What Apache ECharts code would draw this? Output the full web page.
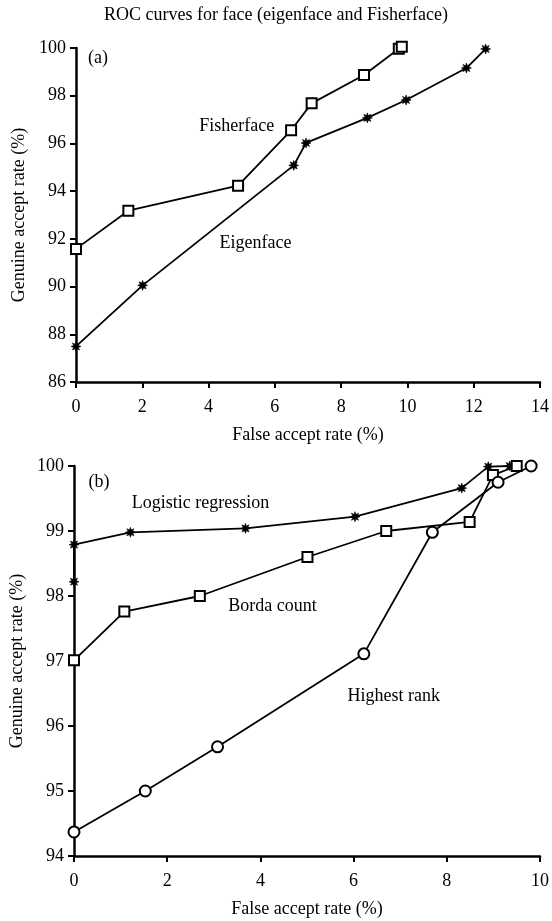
<!DOCTYPE html>
<html>
<head>
<meta charset="utf-8">
<script src="https://cdn.jsdelivr.net/npm/echarts@6/dist/echarts.min.js"></script>
<style>
html,body{margin:0;padding:0;background:#fff;}
#main{width:552px;height:921px;}
</style>
</head>
<body>
<div id="main"></div>
<script>
// ---- Data ----
const titleText = 'ROC curves for face (eigenface and Fisherface)';
const xAxisTitle = 'False accept rate (%)';
const yAxisTitle = 'Genuine accept rate (%)';

// Panel (a)
const fisherX = [0, 1.58, 4.89, 6.49, 7.11, 8.69, 9.74, 9.83];
const fisherY = [91.58, 93.18, 94.23, 96.55, 97.68, 98.87, 99.97, 100.05];
const eigenX = [0, 2.01, 6.57, 6.94, 8.79, 9.96, 11.78, 12.36];
const eigenY = [87.49, 90.05, 95.08, 96.02, 97.07, 97.82, 99.16, 99.96];

// Panel (b)
const logisticX = [0, 0, 1.21, 3.68, 6.03, 8.32, 8.89, 9.35];
const logisticY = [98.22, 98.79, 98.98, 99.04, 99.22, 99.66, 99.99, 100.0];
const bordaX = [0, 1.08, 2.70, 5.01, 6.70, 8.49, 8.99, 9.5];
const bordaY = [97.01, 97.76, 98.0, 98.6, 99.0, 99.14, 99.86, 100.0];
const highestX = [0, 1.53, 3.08, 6.22, 7.69, 9.1, 9.81];
const highestY = [94.37, 95.0, 95.68, 97.11, 98.98, 99.75, 100.0];

// Annotation texts with their data-space anchors (left edge, vertical centre)
const annotA = [
  {text: '(a)', x: 0.36, y: 99.58},
  {text: 'Fisherface', x: 3.72, y: 96.71},
  {text: 'Eigenface', x: 4.33, y: 91.8}
];
const annotB = [
  {text: '(b)', x: 0.31, y: 99.75},
  {text: 'Logistic regression', x: 1.24, y: 99.42},
  {text: 'Borda count', x: 3.31, y: 97.84},
  {text: 'Highest rank', x: 5.87, y: 96.46}
];

const zip = (xs, ys) => xs.map((x, i) => [x, ys[i]]);

const FONT = 'Liberation Serif';
const FS = 18;
const BLACK = '#000';
const asteriskPath = 'path://M20 10 L14.6 11.9 L17.07 17.07 L11.9 14.6 L10 20 L8.1 14.6 L2.93 17.07 L5.4 11.9 L0 10 L5.4 8.1 L2.93 2.93 L8.1 5.4 L10 0 L11.9 5.4 L17.07 2.93 L14.6 8.1 Z';

function xAxisCfg(gridIndex, max) {
  return {
    type: 'value', gridIndex, min: 0, max, interval: 2,
    name: xAxisTitle, nameLocation: 'middle', nameGap: 44,
    nameTextStyle: {fontFamily: FONT, fontSize: FS, color: BLACK},
    axisLine: {show: true, onZero: false, lineStyle: {color: BLACK, width: 2.5}},
    axisTick: {show: true, inside: false, length: 6, lineStyle: {color: BLACK, width: 2}},
    axisLabel: {fontFamily: FONT, fontSize: FS, color: BLACK, margin: 16},
    splitLine: {show: false}
  };
}
function yAxisCfg(gridIndex, min, max, interval) {
  return {
    type: 'value', gridIndex, min, max, interval,
    name: yAxisTitle, nameLocation: 'middle', nameGap: 48,
    nameTextStyle: {fontFamily: FONT, fontSize: FS, color: BLACK},
    axisLine: {show: true, onZero: false, lineStyle: {color: BLACK, width: 2.5}},
    axisTick: {show: true, inside: false, length: 6, lineStyle: {color: BLACK, width: 2}},
    axisLabel: {fontFamily: FONT, fontSize: FS, color: BLACK, margin: 10},
    splitLine: {show: false}
  };
}

function lineSeries(name, data, idx, symbol, size, fill) {
  return {
    name, type: 'line', xAxisIndex: idx, yAxisIndex: idx, data,
    symbol, symbolSize: size, showAllSymbol: true, clip: false,
    lineStyle: {color: BLACK, width: 1.8},
    itemStyle: {color: fill, borderColor: BLACK, borderWidth: symbol === asteriskPath ? 0.6 : 2},
    emphasis: {disabled: true},
    animation: false, z: 3
  };
}

const chart = echarts.init(document.getElementById('main'), null, {renderer: 'canvas'});
chart.setOption({
  backgroundColor: '#fff',
  animation: false,
  title: {
    text: titleText, left: 'center', top: 6, padding: 0,
    textStyle: {fontFamily: FONT, fontSize: FS, fontWeight: 'normal', color: BLACK}
  },
  grid: [
    {left: 76, top: 48, width: 464, height: 334},
    {left: 74, top: 466, width: 466, height: 390}
  ],
  xAxis: [xAxisCfg(0, 14), xAxisCfg(1, 10)],
  yAxis: [yAxisCfg(0, 86, 100, 2), yAxisCfg(1, 94, 100, 1)],
  series: [
    lineSeries('Fisherface', zip(fisherX, fisherY), 0, 'rect', 10, '#fff'),
    lineSeries('Eigenface', zip(eigenX, eigenY), 0, asteriskPath, 10, BLACK),
    lineSeries('Logistic regression', zip(logisticX, logisticY), 1, asteriskPath, 10, BLACK),
    lineSeries('Borda count', zip(bordaX, bordaY), 1, 'rect', 10, '#fff'),
    lineSeries('Highest rank', zip(highestX, highestY), 1, 'circle', 11, '#fff')
  ]
});

// Annotation texts placed through the axes' own scales
function annotGraphics(list, idx) {
  return list.map(a => {
    const p = chart.convertToPixel({gridIndex: idx}, [a.x, a.y]);
    return {
      type: 'text', x: p[0], y: p[1], silent: true, z: 10,
      style: {text: a.text, fontFamily: FONT, fontSize: FS, fill: BLACK, align: 'left', verticalAlign: 'middle'}
    };
  });
}
chart.setOption({graphic: annotGraphics(annotA, 0).concat(annotGraphics(annotB, 1))});
</script>
</body>
</html>
